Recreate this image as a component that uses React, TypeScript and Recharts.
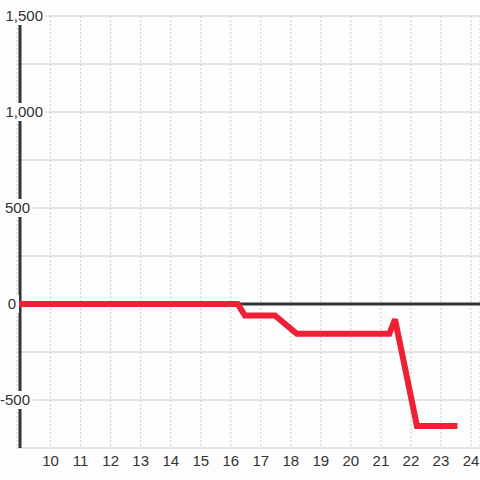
import { LineChart, Line, XAxis, YAxis, CartesianGrid, ReferenceLine } from "recharts";

const hours = [8.88, 16.23, 16.47, 17.47, 18.2, 21.28, 21.47, 22.2, 23.55];
const balance = [0, 0, -60, -60, -155, -155, -80, -635, -635];
const xTicks = [10, 11, 12, 13, 14, 15, 16, 17, 18, 19, 20, 21, 22, 23, 24];
const yTicks = [-750, -500, -250, 0, 250, 500, 750, 1000, 1250, 1500];
const yLabels = [-500, 0, 500, 1000, 1500];

const data = hours.map((h, i) => ({ h, v: balance[i] }));

const BG = "#fcfdfc";
const INK = "#333333";
const RED = "#ed2036";
const FONT = "'Liberation Sans', Arial, sans-serif";

// right edge of each y label (they are not aligned in the original)
const labelEnd: Record<number, number> = { 1500: 43, 1000: 43, 500: 30, 0: 16, [-500]: 30 };

function YTick(props: any) {
  const { y, payload } = props;
  const v = payload.value;
  if (!yLabels.includes(v)) return <g />;
  const text = v.toLocaleString("en-US");
  const end = labelEnd[v] ?? 30;
  const w = text.length * 8.5 + 4;
  return (
    <g>
      <rect x={end - w + 1} y={y - 9} width={w + 2} height={18} fill={BG} />
      <text x={end} y={y} dy="0.36em" textAnchor="end" fontSize={15} fontFamily={FONT} fill={INK}>
        {text}
      </text>
    </g>
  );
}

function XTick(props: any) {
  const { x, payload } = props;
  return (
    <text x={x} y={466} textAnchor="middle" fontSize={15} fontFamily={FONT} fill={INK}>
      {payload.value}
    </text>
  );
}

export default function App() {
  return (
    <div style={{ position: "fixed", left: 0, top: 0, width: 480, height: 480, background: BG }}>
      <LineChart width={480} height={480} data={data} margin={{ top: 16, right: 0, left: 0, bottom: 0 }}>
        <CartesianGrid vertical={false} stroke="#cccccc" />
        <CartesianGrid horizontal={false} stroke="#cccccc" strokeDasharray="2 2" />
        <ReferenceLine y={0} stroke={INK} strokeWidth={3} />
        <ReferenceLine x={8.98} stroke={INK} strokeWidth={3} />
        <XAxis
          dataKey="h"
          type="number"
          domain={[8.88, 24.3]}
          ticks={xTicks}
          axisLine={false}
          tickLine={false}
          height={32}
          tick={<XTick />}
          interval={0}
          allowDataOverflow
        />
        <YAxis
          type="number"
          domain={[-750, 1500]}
          ticks={yTicks}
          width={17}
          axisLine={false}
          tickLine={false}
          tick={<YTick />}
          interval={0}
        />
        <Line
          dataKey="v"
          type="linear"
          stroke={RED}
          strokeWidth={6}
          strokeMiterlimit={2}
          dot={false}
          isAnimationActive={false}
        />
      </LineChart>
    </div>
  );
}
